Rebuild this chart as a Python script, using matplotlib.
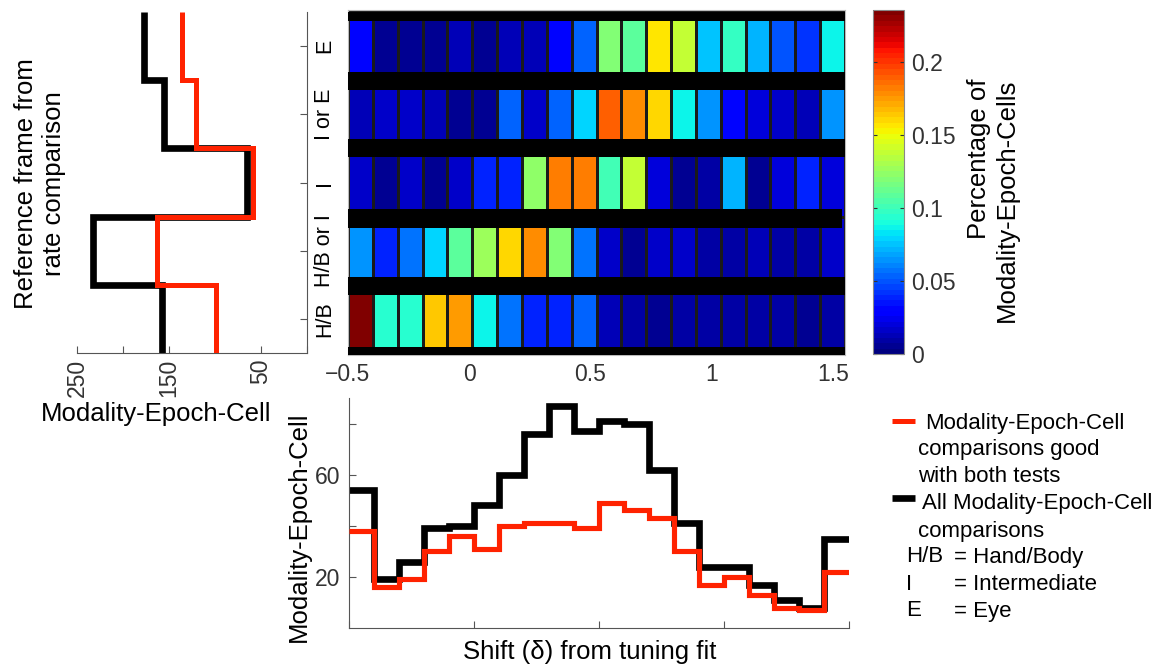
import numpy as np
import matplotlib
matplotlib.use("Agg")
import matplotlib.pyplot as plt
from matplotlib.lines import Line2D

plt.rcParams["font.family"] = ["Liberation Sans", "DejaVu Sans"]

W, H = 1167, 671
RED = "#ff2200"
TICK_GRAY = "#333333"
SPINE_GRAY = "#555555"

# reference frames, top to bottom
frames = ["E", "I or E", "I", "H/B or I", "H/B"]
all_by_frame = [177, 155, 65, 233, 158]
good_by_frame = [136, 121, 59, 163, 99]

# shift (delta) bins, 20 of them
shift_ticks = [-0.5, 0, 0.5, 1, 1.5]
all_by_shift = [54, 19, 26, 39, 40, 48, 60, 76, 87, 77,
                81, 80, 62, 41, 24, 24, 17, 11, 8, 35]
good_by_shift = [38, 16, 19, 30, 36, 31, 40, 41, 41, 39,
                 49, 46, 43, 30, 17, 20, 13, 8, 7, 22]

# fraction of modality-epoch-cells per shift bin, one list per frame
pct_eye = [0.031, 0.007, 0.007, 0.007, 0.013, 0.007, 0.012, 0.012, 0.033, 0.055,
           0.118, 0.108, 0.158, 0.139, 0.077, 0.097, 0.073, 0.050, 0.042, 0.085]
pct_int_or_eye = [0.012, 0.015, 0.015, 0.014, 0.007, 0.007, 0.053, 0.015, 0.053, 0.078,
                  0.190, 0.179, 0.159, 0.085, 0.065, 0.033, 0.021, 0.017, 0.012, 0.064]
pct_int = [0.017, 0.007, 0.018, 0.007, 0.018, 0.038, 0.040, 0.124, 0.183, 0.183,
           0.103, 0.139, 0.020, 0.007, 0.008, 0.073, 0.007, 0.019, 0.038, 0.019]
pct_hand_or_int = [0.063, 0.038, 0.057, 0.081, 0.108, 0.128, 0.160, 0.177, 0.118, 0.058,
                   0.015, 0.007, 0.017, 0.017, 0.008, 0.008, 0.014, 0.008, 0.008, 0.015]
pct_hand = [0.233, 0.094, 0.094, 0.163, 0.175, 0.085, 0.058, 0.038, 0.038, 0.055,
            0.013, 0.010, 0.007, 0.008, 0.008, 0.008, 0.008, 0.008, 0.007, 0.010]
color_max = 0.236

shift_edges = np.linspace(-0.5, 1.55, len(all_by_shift) + 1)
row_edges = np.arange(len(frames) + 1)


def fig_rect(x0, y0, x1, y1):
    return [x0 / W, 1 - y1 / H, (x1 - x0) / W, (y1 - y0) / H]


fig = plt.figure(figsize=(W / 100, H / 100), dpi=100)

# ---- left panel: counts per frame ----
ax_l = fig.add_axes(fig_rect(77, 12, 307, 353))
ax_l.stairs(all_by_frame, row_edges, orientation="horizontal", baseline=None,
            color="black", linewidth=4.8, zorder=2)
ax_l.stairs(good_by_frame, row_edges, orientation="horizontal", baseline=None,
            color=RED, linewidth=3.6, zorder=3)
ax_l.set_xlim(250, 0)
ax_l.set_ylim(5, 0)
ax_l.set_xticks([250, 200, 150, 100, 50, 0])
ax_l.set_xticklabels(["250", "", "150", "", "50", ""], rotation=90, va="top")
ax_l.set_yticks(row_edges[:-1] + 0.5)
ax_l.set_yticklabels([])
ax_l.yaxis.tick_right()
ax_l.tick_params(direction="in", length=5, width=0.8, color=SPINE_GRAY,
                 labelsize=16.5, labelcolor=TICK_GRAY, pad=4)
for side in ("top", "left"):
    ax_l.spines[side].set_visible(False)
for side in ("bottom", "right"):
    ax_l.spines[side].set_color(SPINE_GRAY)
    ax_l.spines[side].set_linewidth(0.8)
fig.text(40 / W, 1 - 184 / H, "Reference frame from\nrate comparison", rotation=90,
         ha="center", va="center", multialignment="center", fontsize=18.5,
         linespacing=1.25)
fig.text(156 / W, 1 - 414 / H, "Modality-Epoch-Cell", ha="center", va="center",
         fontsize=18.5)

# ---- heatmap ----
ax_h = fig.add_axes(fig_rect(348, 10, 845, 355))
cmap = plt.get_cmap("jet", 64)
grid = np.array([pct_eye, pct_int_or_eye, pct_int, pct_hand_or_int, pct_hand])
mesh_rows = np.array([-0.03, 1, 2, 3, 4, 5])
mesh = ax_h.pcolormesh(shift_edges, mesh_rows, grid, cmap=cmap, vmin=0, vmax=color_max,
                       edgecolors="#1a1a1a", linewidth=0.8)
bars = [(0.0, 0.13, 1.0), (0.88, 1.14, 1.0), (1.86, 2.13, 1.0),
        (2.89, 3.17, 0.994), (3.89, 4.15, 1.0), (4.91, 5.05, 1.0)]
for y0, y1, xmax in bars:
    ax_h.axhspan(y0, y1, xmin=0, xmax=xmax, color="black", lw=0, zorder=3)
ax_h.set_xlim(shift_edges[0], shift_edges[-1])
ax_h.set_ylim(5.03, -0.03)
ax_h.set_xticks(shift_ticks)
ax_h.set_xticklabels(["\u22120.5", "0", "0.5", "1", "1.5"])
ax_h.set_yticks(row_edges[:-1] + 0.5)
ax_h.set_yticklabels(frames, rotation=90, va="center", ha="right")
ax_h.tick_params(length=0, labelsize=16.5, labelcolor=TICK_GRAY)
ax_h.tick_params(axis="y", pad=9, labelcolor="black", labelsize=15.5)
ax_h.tick_params(axis="x", pad=6)
for sp in ax_h.spines.values():
    sp.set_color("#bbbbbb")
    sp.set_linewidth(0.8)

# ---- colorbar ----
cax = fig.add_axes(fig_rect(873, 10, 904, 354))
cb = fig.colorbar(mesh, cax=cax)
cb.set_ticks([0, 0.05, 0.1, 0.15, 0.2])
cb.set_ticklabels(["0", "0.05", "0.1", "0.15", "0.2"])
cax.yaxis.set_ticks_position("both")
cax.tick_params(direction="in", length=3, width=0.8, color="#333333",
                labelsize=16.5, labelcolor=TICK_GRAY, labelright=True, labelleft=False, pad=5)
cb.outline.set_edgecolor("#888888")
cb.outline.set_linewidth(0.8)
fig.text(993 / W, 1 - 200 / H, "Percentage of\nModality-Epoch-Cells", rotation=90,
         ha="center", va="center", multialignment="right", fontsize=18.5,
         linespacing=1.2)

# ---- bottom panel: counts per shift ----
ax_b = fig.add_axes(fig_rect(349, 398, 849, 628))
ax_b.stairs(all_by_shift, shift_edges, baseline=None, color="black",
            linewidth=4.8, zorder=2)
ax_b.stairs(good_by_shift, shift_edges, baseline=None, color=RED,
            linewidth=3.7, zorder=3)
ax_b.set_xlim(shift_edges[0], shift_edges[-1])
ax_b.set_ylim(0, 90)
ax_b.set_xticks(shift_edges[::5])
ax_b.set_xticklabels([])
ax_b.set_yticks([20, 40, 60, 80])
ax_b.set_yticklabels(["20", "", "60", ""])
ax_b.tick_params(direction="in", length=5, width=0.8, color=SPINE_GRAY,
                 labelsize=16.5, labelcolor=TICK_GRAY, pad=6)
for side in ("top", "right"):
    ax_b.spines[side].set_visible(False)
for side in ("bottom", "left"):
    ax_b.spines[side].set_color(SPINE_GRAY)
    ax_b.spines[side].set_linewidth(0.8)
fig.text(299 / W, 1 - 527 / H, "Modality-Epoch-Cell", rotation=90, ha="center",
         va="center", fontsize=18.5)
fig.text(590 / W, 1 - 652 / H, "Shift (\u03b4) from tuning fit", ha="center",
         va="center", fontsize=18.5)

# ---- legend ----
fig.add_artist(Line2D([892 / W, 915 / W], [1 - 421 / H] * 2, color=RED, lw=3.6,
                      solid_capstyle="butt"))
fig.add_artist(Line2D([892 / W, 915 / W], [1 - 498 / H] * 2, color="black", lw=4.8,
                      solid_capstyle="butt"))
legend_lines = [
    (925, 423, "Modality-Epoch-Cell"),
    (918, 449, "comparisons good"),
    (918, 477, "with both tests"),
    (922, 503, "All Modality-Epoch-Cell"),
    (918, 531, "comparisons"),
    (906, 557, "H/B"), (954, 557, "= Hand/Body"),
    (906, 585, "I"), (954, 585, "= Intermediate"),
    (906, 611, "E"), (954, 611, "= Eye"),
]
for x, y, s in legend_lines:
    fig.text(x / W, 1 - y / H, s, ha="left", va="center", fontsize=16)

fig.savefig("out.png", dpi=100, facecolor="white")
